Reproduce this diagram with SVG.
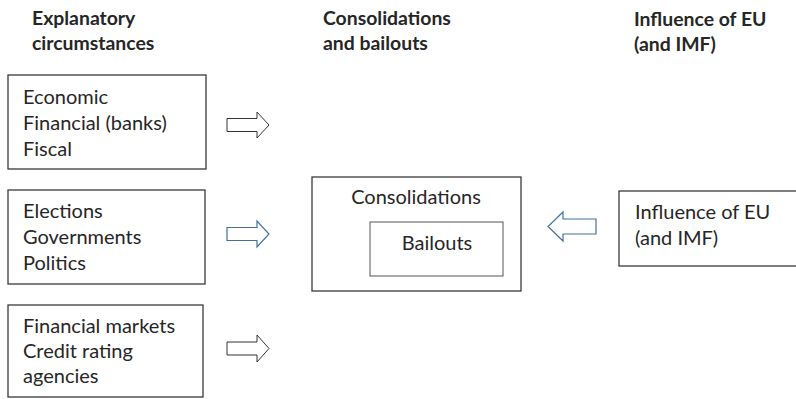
<svg xmlns="http://www.w3.org/2000/svg" width="796" height="399" viewBox="0 0 796 399">
<style>
.hd{font-family:Lato,"Liberation Sans",sans-serif;font-weight:bold;font-size:19.4px;fill:#262626}
.tx{font-family:Lato,"Liberation Sans",sans-serif;font-size:20px;fill:#262626}
.bx{fill:#fff;stroke:#3a3a3a;stroke-width:1.3}
.ib{fill:#fff;stroke:#555;stroke-width:1}
.ab{fill:#fff;stroke:#333;stroke-width:1}
.ablue{fill:#fff;stroke:#41719c;stroke-width:1.2}
</style>
<rect width="796" height="399" fill="#fff"/>
<g id="headers">
<text class="hd" x="32" y="25">Explanatory</text>
<text class="hd" x="32" y="50">circumstances</text>
<text class="hd" x="323" y="25">Consolidations</text>
<text class="hd" x="323" y="50">and bailouts</text>
<text class="hd" x="634" y="26">Influence of EU</text>
<text class="hd" x="634" y="51">(and IMF)</text>
</g>
<g id="node-economic">
<rect class="bx" x="8" y="75" width="198" height="94"/>
<text class="tx" x="23" y="104">Economic</text>
<text class="tx" x="23" y="130">Financial (banks)</text>
<text class="tx" x="23" y="156">Fiscal</text>
</g>
<g id="node-elections">
<rect class="bx" x="8" y="190" width="197" height="94"/>
<text class="tx" x="23" y="218">Elections</text>
<text class="tx" x="23" y="244">Governments</text>
<text class="tx" x="23" y="270">Politics</text>
</g>
<g id="node-markets">
<rect class="bx" x="8" y="305" width="195" height="92"/>
<text class="tx" x="23" y="333">Financial markets</text>
<text class="tx" x="23" y="358">Credit rating</text>
<text class="tx" x="23" y="383">agencies</text>
</g>
<g id="node-consolidations">
<rect class="bx" x="312" y="177" width="209" height="114"/>
<text class="tx" x="416" y="204" text-anchor="middle">Consolidations</text>
</g>
<g id="node-bailouts">
<rect class="ib" x="370" y="222" width="133" height="54"/>
<text class="tx" x="437" y="250" text-anchor="middle">Bailouts</text>
</g>
<g id="node-eu">
<rect class="bx" x="619" y="191" width="190" height="75"/>
<text class="tx" x="635" y="219">Influence of EU</text>
<text class="tx" x="635" y="245">(and IMF)</text>
</g>
<g id="connectors">
<path class="ab" d="M227,118.5 H257 V112 L269,125 L257,138 V131.5 H227 Z"/>
<path class="ablue" d="M227,227.5 H257 V221 L269,234 L257,247 V240.5 H227 Z"/>
<path class="ab" d="M227,342 H257 V335 L269,348.5 L257,362 V355 H227 Z"/>
<path class="ablue" d="M596,219 H563 V212 L548,226.5 L563,241 V234 H596 Z"/>
</g>
</svg>
